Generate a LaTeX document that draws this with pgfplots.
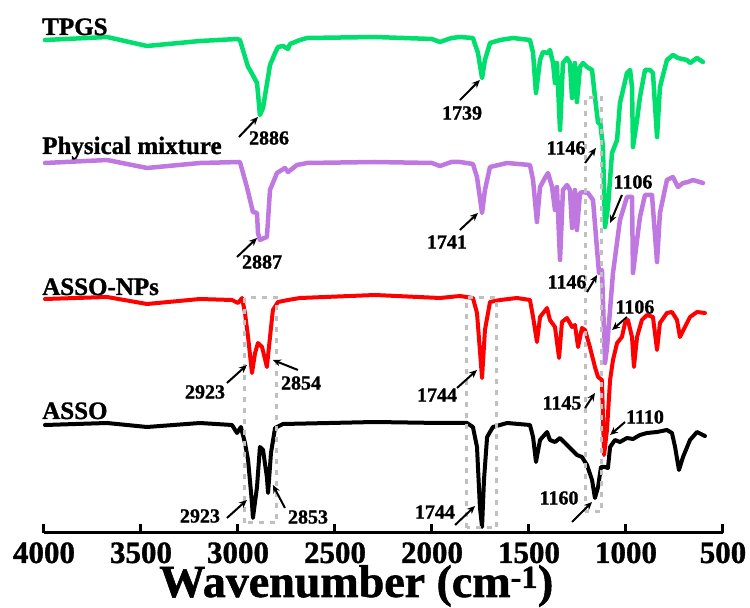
\documentclass[border=0pt]{standalone}
\usepackage{pgfplots}
\pgfplotsset{compat=1.18}
\usepackage{fontspec}
\setmainfont{Liberation Serif}[BoldFeatures={FakeBold=1.2}]
\usetikzlibrary{arrows.meta}
\definecolor{tgreen}{RGB}{0,222,110}
\definecolor{tpurple}{RGB}{192,120,225}
\definecolor{tred}{RGB}{255,0,0}
\definecolor{tgray}{RGB}{192,192,192}
\begin{document}
\begin{tikzpicture}[
  annot/.style={font=\fontsize{20}{20}\selectfont\bfseries, inner sep=0pt},
  arr/.style={-{Stealth[length=8pt,width=7pt]}, line width=2pt, black},
  lab/.style={font=\fontsize{25}{25}\selectfont\bfseries, anchor=base west, inner sep=0pt},
  tlab/.style={font=\fontsize{31}{31}\selectfont\bfseries, anchor=base, inner sep=0pt, text depth=0pt},
  gbox/.style={tgray, line width=3pt, dash pattern=on 5pt off 6pt},
]
\useasboundingbox (0,0) rectangle (750pt,608pt);
\begin{axis}[
  at={(44pt,75pt)}, anchor=south west,
  scale only axis, width=679pt, height=518pt,
  xmin=500, xmax=4000, x dir=reverse,
  ymin=0, ymax=518,
  axis x line*=bottom, axis y line=none,
  xtick={4000,3500,3000,2500,2000,1500,1000,500},
  xticklabels={},
  ytick=\empty,
  tick align=inside, major tick length=9pt,
  every tick/.style={line width=3pt, black},
  axis line style={line width=3pt, black},
  xlabel={Wavenumber (cm\textsuperscript{-1})},
  xlabel style={font=\fontsize{46}{46}\selectfont\bfseries, at={(axis description cs:0.46,0)}, anchor=base, inner sep=0pt, text height=30pt, yshift=-64pt},
  clip=false,
  every axis plot/.append style={line join=round, line cap=round},
]
% ASSO (black)
\addplot[black, line width=4pt] coordinates {
(3995,108)(3675,110)(3469,106)(3196,110)(3031,108)(3005,100)(2985,106)(2964,90)(2948,73)(2928,30)(2923,15)(2902,46)(2887,86)(2871,83)(2851,56)(2845,40)(2830,80)(2809,105)(2768,109)(2294,111)(1959,110)(1820,110)(1789,106)(1768,86)(1753,26)(1742,6)(1732,53)(1716,96)(1686,106)(1613,110)(1495,108)(1479,96)(1464,71)(1443,93)(1407,101)(1392,93)(1366,91)(1340,95)(1314,90)(1278,83)(1253,78)(1227,76)(1201,68)(1175,53)(1160,35)(1144,46)(1129,66)(1108,66)(1093,65)(1082,86)(1057,93)(1031,91)(995,95)(964,94)(928,98)(892,100)(840,101)(789,103)(763,100)(747,86)(727,63)(706,76)(670,93)(634,101)(593,97)
};
% ASSO-NPs (red)
\addplot[tred, line width=4pt] coordinates {
(3995,234)(3675,236)(3469,229)(3196,234)(3031,233)(3000,230)(2979,235)(2964,220)(2948,196)(2928,160)(2912,180)(2897,190)(2876,186)(2851,166)(2835,196)(2820,223)(2794,231)(2742,233)(2680,235)(2294,238)(1959,235)(1856,237)(1789,235)(1768,220)(1742,155)(1727,203)(1701,231)(1649,233)(1562,235)(1495,233)(1479,216)(1459,191)(1443,216)(1407,225)(1392,213)(1366,206)(1345,175)(1330,211)(1304,215)(1278,206)(1263,208)(1247,186)(1227,205)(1211,203)(1186,186)(1160,166)(1144,156)(1124,153)(1113,78)(1098,103)(1082,153)(1067,173)(1046,190)(1021,196)(1005,210)(990,213)(969,196)(959,166)(943,196)(918,213)(892,218)(861,216)(840,183)(825,210)(789,220)(763,221)(737,213)(722,196)(696,206)(670,216)(634,221)(593,220)
};
% Physical mixture (purple)
\addplot[tpurple, line width=4.5pt] coordinates {
(3995,370)(3675,373)(3469,365)(3196,370)(2990,371)(2954,346)(2923,321)(2902,320)(2897,300)(2887,293)(2876,294)(2851,296)(2835,343)(2799,360)(2758,365)(2742,361)(2696,368)(2644,370)(2294,371)(2000,370)(1959,367)(1900,371)(1856,371)(1789,369)(1768,356)(1742,320)(1727,343)(1701,366)(1613,370)(1495,368)(1479,353)(1459,311)(1443,346)(1418,355)(1402,360)(1381,346)(1366,323)(1356,346)(1340,273)(1325,343)(1304,348)(1289,343)(1278,305)(1263,343)(1253,303)(1237,340)(1222,341)(1196,340)(1170,333)(1149,283)(1139,260)(1124,263)(1108,170)(1098,185)(1067,260)(1031,313)(995,336)(969,336)(964,260)(943,293)(928,316)(902,338)(866,338)(840,271)(825,320)(789,353)(758,356)(732,346)(706,350)(680,351)(655,353)(603,350)
};
% TPGS (green)
\addplot[tgreen, line width=4.5pt] coordinates {
(3995,493)(3675,496)(3469,487)(3196,492)(3005,494)(2990,493)(2948,466)(2938,463)(2902,450)(2897,440)(2887,418)(2871,425)(2835,468)(2809,480)(2794,486)(2768,487)(2742,484)(2732,489)(2680,493)(2644,495)(2294,496)(2000,494)(1959,491)(1900,495)(1856,496)(1789,495)(1763,480)(1742,455)(1727,473)(1701,490)(1649,493)(1582,495)(1495,493)(1479,480)(1464,440)(1443,473)(1428,481)(1402,480)(1392,483)(1376,470)(1366,450)(1356,470)(1340,403)(1325,470)(1304,475)(1289,470)(1278,435)(1263,470)(1253,431)(1237,466)(1222,470)(1201,466)(1175,463)(1160,436)(1144,410)(1134,413)(1119,386)(1108,306)(1093,326)(1072,380)(1046,393)(1031,430)(995,460)(979,463)(969,446)(964,386)(943,413)(928,436)(902,463)(876,463)(861,460)(840,396)(825,446)(789,473)(758,478)(732,475)(686,473)(670,470)(634,475)(603,471)
};
% gray dashed boxes
\draw[gbox] (axis cs:2964,10) rectangle (axis cs:2799,235);
\draw[gbox] (axis cs:1820,5) rectangle (axis cs:1665,235);
\draw[gbox] (axis cs:1211,21) rectangle (axis cs:1124,435);
% tick labels
\node[tlab] at (axis cs:4000,-30) {4000};
\node[tlab] at (axis cs:3500,-30) {3500};
\node[tlab] at (axis cs:3000,-30) {3000};
\node[tlab] at (axis cs:2500,-30) {2500};
\node[tlab] at (axis cs:2000,-30) {2000};
\node[tlab] at (axis cs:1500,-30) {1500};
\node[tlab] at (axis cs:1000,-30) {1000};
\node[tlab] at (axis cs:500,-30) {500};
% series labels
\node[lab] at (axis cs:4010,498) {TPGS};
\node[lab] at (axis cs:4010,379) {Physical mixture};
\node[lab] at (axis cs:4010,238) {ASSO-NPs};
\node[lab] at (axis cs:4010,114) {ASSO};
% annotations
\node[annot] at (axis cs:2840,395) {2886};
\draw[arr] (axis cs:2995,396) -- (axis cs:2897,416);
\node[annot] at (axis cs:1845,420) {1739};
\draw[arr] (axis cs:1856,433) -- (axis cs:1753,453);
\node[annot] at (axis cs:1309,385) {1146};
\draw[arr] (axis cs:1211,370) -- (axis cs:1155,385);
\node[annot] at (axis cs:964,351) {1106};
\draw[arr] (axis cs:1021,338) -- (axis cs:1082,310);
\node[annot] at (axis cs:1923,291) {1741};
\draw[arr] (axis cs:1856,303) -- (axis cs:1763,320);
\node[annot] at (axis cs:2876,271) {2887};
\draw[arr] (axis cs:3005,276) -- (axis cs:2902,295);
\node[annot] at (axis cs:1304,251) {1146};
\draw[arr] (axis cs:1201,241) -- (axis cs:1149,258);
\node[annot] at (axis cs:954,226) {1106};
\draw[arr] (axis cs:995,216) -- (axis cs:1072,203);
\node[annot] at (axis cs:3170,141) {2923};
\draw[arr] (axis cs:3057,150) -- (axis cs:2954,168);
\node[annot] at (axis cs:2675,150) {2854};
\draw[arr] (axis cs:2691,163) -- (axis cs:2820,173);
\node[annot] at (axis cs:1974,138) {1744};
\draw[arr] (axis cs:1871,145) -- (axis cs:1768,163);
\node[annot] at (axis cs:1330,130) {1145};
\draw[arr] (axis cs:1211,125) -- (axis cs:1160,140);
\node[annot] at (axis cs:902,116) {1110};
\draw[arr] (axis cs:1005,111) -- (axis cs:1082,98);
\node[annot] at (axis cs:3196,17) {2923};
\draw[arr] (axis cs:3057,15) -- (axis cs:2954,33);
\node[annot] at (axis cs:2639,16) {2853};
\draw[arr] (axis cs:2758,25) -- (axis cs:2820,48);
\node[annot] at (axis cs:1985,21) {1744};
\draw[arr] (axis cs:1881,8) -- (axis cs:1778,27);
\node[annot] at (axis cs:1345,35) {1160};
\draw[arr] (axis cs:1278,11) -- (axis cs:1175,31);
\end{axis}
\end{tikzpicture}
\end{document}
